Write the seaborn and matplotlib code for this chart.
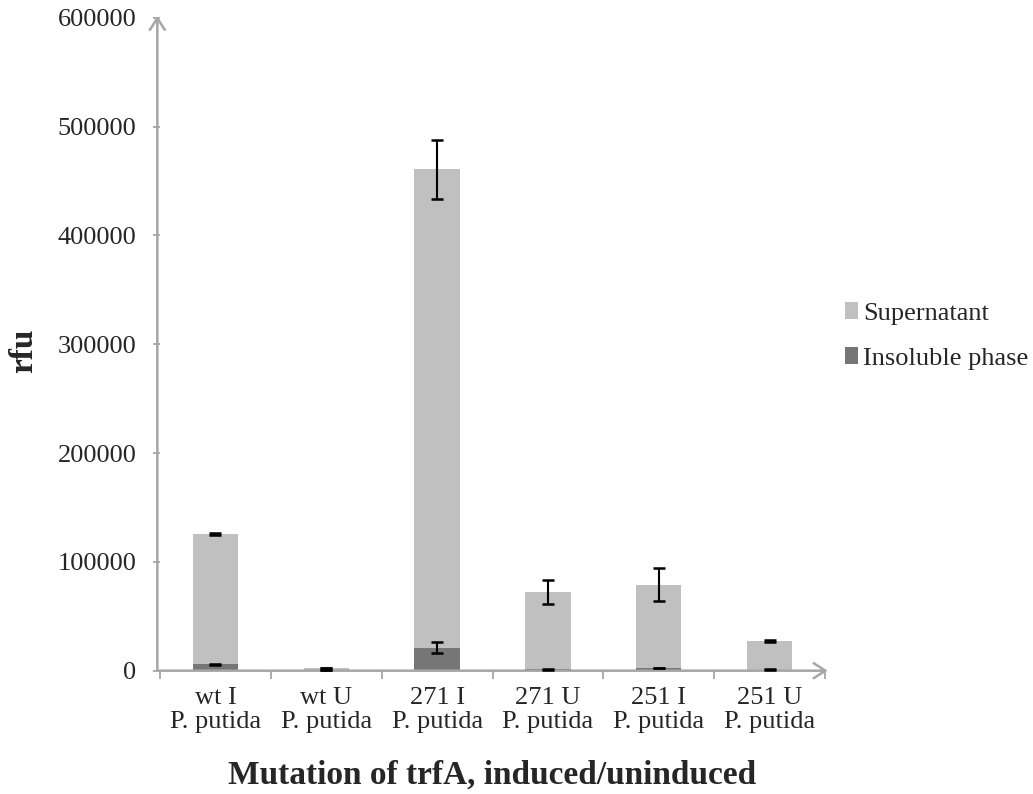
import numpy as np
import pandas as pd
import matplotlib
matplotlib.use("Agg")
import matplotlib.pyplot as plt
import seaborn as sns

categories = ["wt I\nP. putida", "wt U\nP. putida", "271 I\nP. putida",
              "271 U\nP. putida", "251 I\nP. putida", "251 U\nP. putida"]
insoluble = [5900, 300, 21100, 1300, 2500, 800]
insoluble_err = [400, 100, 5100, 500, 400, 300]
supernatant = [119700, 2200, 439700, 70700, 76500, 26200]
supernatant_err = [600, 400, 27000, 10900, 15400, 900]
yticks = [0, 100000, 200000, 300000, 400000, 500000, 600000]

sns.set_theme(style="white")
plt.rcParams['font.family'] = ['Liberation Serif', 'DejaVu Serif']

total = [a + b for a, b in zip(insoluble, supernatant)]
df = pd.DataFrame({"cat": categories, "total": total, "ins": insoluble})

fig = plt.figure(figsize=(10.33, 7.94), dpi=100)
ax = fig.add_axes([160 / 1033, 0.1553, 665 / 1033, 0.8222])

light = "#C0C0C0"
dark = "#767676"
axcol = "#A6A6A6"

sns.barplot(data=df, x="cat", y="total", color=light, width=0.41,
            saturation=1, ax=ax, label="Supernatant", linewidth=0)
sns.barplot(data=df, x="cat", y="ins", color=dark, width=0.41,
            saturation=1, ax=ax, label="Insoluble phase", linewidth=0)

xpos = np.arange(len(categories))
ax.errorbar(xpos, total, yerr=supernatant_err, fmt="none", ecolor="black",
            elinewidth=1.5, capsize=4.5, capthick=1.8, zorder=5)
ax.errorbar(xpos, insoluble, yerr=insoluble_err, fmt="none", ecolor="black",
            elinewidth=1.5, capsize=4.5, capthick=1.8, zorder=5)

ax.set_xlim(-0.5, 5.5)
ax.set_ylim(0, 600000)
ax.set_yticks(yticks)
ax.set_yticklabels([str(v) for v in yticks], fontsize=19)
ax.set_xticks(xpos)
ax.set_xticklabels(categories, fontsize=19, linespacing=1.12)
ax.set_xticks(np.arange(-0.5, 5.6, 1.0), minor=True)
ax.tick_params(axis="x", which="major", length=0, pad=12)
ax.tick_params(axis="x", which="minor", length=6, width=1.3, color=axcol, direction="out", bottom=True)
ax.tick_params(axis="y", which="major", length=5, width=1.3, color=axcol, direction="out", left=True, pad=12)

for s in ["top", "right", "left", "bottom"]:
    ax.spines[s].set_visible(False)

# axes lines with open arrow heads
ax.annotate("", xy=(1.004, 0), xytext=(-0.004, 0), xycoords="axes fraction",
            arrowprops=dict(arrowstyle="->,head_length=0.7,head_width=0.45", color=axcol, lw=1.8,
                            shrinkA=0, shrinkB=0), annotation_clip=False)
ax.annotate("", xy=(-0.004, 1.003), xytext=(-0.004, 0), xycoords="axes fraction",
            arrowprops=dict(arrowstyle="->,head_length=0.7,head_width=0.45", color=axcol, lw=1.8,
                            shrinkA=0, shrinkB=0), annotation_clip=False)

ax.set_ylabel("rfu", fontsize=24, fontweight="bold")
ax.yaxis.set_label_coords(-0.182, 0.49)
ax.set_xlabel("Mutation of trfA, induced/uninduced", fontsize=24, fontweight="bold", labelpad=19)

leg = ax.legend(loc="center left", bbox_to_anchor=(1.03, 0.513), frameon=False,
                fontsize=19, handlelength=0.5, handleheight=0.6,
                handletextpad=0.2, labelspacing=0.85, borderpad=0, borderaxespad=0)

fig.savefig("out.png", dpi=100, facecolor="white")
